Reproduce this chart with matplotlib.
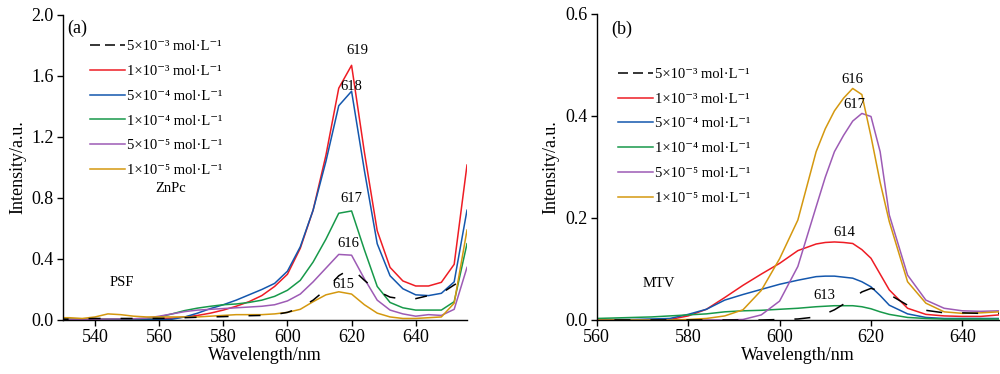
import matplotlib
matplotlib.use("Agg")
import matplotlib.pyplot as plt
from matplotlib.lines import Line2D

plt.rcParams['font.family'] = ['Liberation Serif', 'DejaVu Serif']
plt.rcParams['lines.scale_dashes'] = False

# ---------------- data: panel (a) PSF ----------------
wl_a = [528, 532, 536, 540, 544, 548, 552, 556, 560, 564, 568, 572, 576, 580, 584, 588,
        592, 596, 600, 604, 608, 612, 616, 620, 624, 628, 632, 636, 640, 644, 648, 652, 656]
a_5e3 = [0.005, 0.005, 0.008, 0.01, 0.01, 0.01, 0.01, 0.01, 0.01, 0.012, 0.015, 0.018, 0.02, 0.022,
         0.025, 0.028, 0.03, 0.035, 0.05, 0.08, 0.13, 0.20, 0.29, 0.34, 0.26, 0.19, 0.15, 0.137,
         0.14, 0.16, 0.175, 0.23, 0.28]
a_1e3 = [0.005, 0.005, 0.005, 0.005, 0.005, 0.005, 0.005, 0.005, 0.008, 0.012, 0.02, 0.03, 0.045,
         0.065, 0.09, 0.12, 0.16, 0.22, 0.30, 0.47, 0.72, 1.08, 1.52, 1.67, 1.10, 0.585, 0.345,
         0.256, 0.223, 0.223, 0.247, 0.365, 1.016]
a_5e4 = [0.002, 0.002, 0.002, 0.002, 0.002, 0.002, 0.002, 0.002, 0.002, 0.005, 0.02, 0.045, 0.075,
         0.10, 0.13, 0.165, 0.20, 0.24, 0.32, 0.48, 0.72, 1.04, 1.405, 1.50, 0.98, 0.50, 0.29,
         0.205, 0.165, 0.16, 0.175, 0.25, 0.72]
a_1e4 = [0.005, 0.005, 0.005, 0.005, 0.006, 0.007, 0.008, 0.01, 0.02, 0.04, 0.062, 0.078, 0.09,
         0.10, 0.105, 0.115, 0.13, 0.155, 0.195, 0.26, 0.38, 0.53, 0.70, 0.715, 0.46, 0.22, 0.115,
         0.08, 0.065, 0.065, 0.065, 0.12, 0.50]
a_5e5 = [0.003, 0.003, 0.004, 0.005, 0.006, 0.007, 0.008, 0.012, 0.025, 0.04, 0.055, 0.065, 0.07,
         0.075, 0.08, 0.085, 0.09, 0.10, 0.125, 0.17, 0.25, 0.34, 0.43, 0.425, 0.27, 0.13, 0.065,
         0.04, 0.025, 0.035, 0.03, 0.07, 0.345]
a_1e5 = [0.015, 0.015, 0.01, 0.02, 0.04, 0.035, 0.025, 0.02, 0.02, 0.02, 0.02, 0.02, 0.025, 0.03,
         0.035, 0.035, 0.035, 0.04, 0.05, 0.07, 0.12, 0.165, 0.185, 0.17, 0.10, 0.045, 0.02, 0.01,
         0.01, 0.015, 0.02, 0.11, 0.59]

# ---------------- data: panel (b) MTV ----------------
wl_b = [556, 560, 564, 568, 572, 576, 580, 584, 588, 592, 596, 600, 604, 608, 610, 612, 614, 616,
        618, 620, 622, 624, 628, 632, 636, 640, 644, 648, 652]
b_5e3 = [0, 0, 0, 0, 0, 0, 0, 0, 0, 0, 0, 0.001, 0.002, 0.006, 0.012, 0.02, 0.031, 0.042, 0.055,
         0.062, 0.057, 0.05, 0.029, 0.019, 0.014, 0.014, 0.013, 0.013, 0.013]
b_1e3 = [0, 0, 0, 0, 0, 0.001, 0.008, 0.021, 0.044, 0.068, 0.09, 0.111, 0.136, 0.149, 0.152, 0.153,
         0.152, 0.150, 0.138, 0.121, 0.09, 0.059, 0.023, 0.011, 0.008, 0.007, 0.007, 0.01, 0.011]
b_5e4 = [0.001, 0.001, 0.001, 0.001, 0.002, 0.003, 0.011, 0.021, 0.039, 0.05, 0.06, 0.07, 0.078,
         0.085, 0.086, 0.086, 0.084, 0.082, 0.075, 0.065, 0.048, 0.029, 0.012, 0.005, 0.003, 0.003,
         0.003, 0.003, 0.003]
b_1e4 = [0.002, 0.003, 0.004, 0.005, 0.006, 0.008, 0.01, 0.012, 0.016, 0.018, 0.019, 0.021, 0.023,
         0.026, 0.027, 0.028, 0.028, 0.028, 0.026, 0.022, 0.016, 0.011, 0.005, 0.003, 0.002, 0.002,
         0.002, 0.002, 0.002]
b_5e5 = [0, 0, 0, 0, 0, 0, 0, 0, 0, 0.001, 0.01, 0.037, 0.105, 0.222, 0.28, 0.33, 0.362, 0.39,
         0.405, 0.399, 0.33, 0.206, 0.088, 0.039, 0.023, 0.018, 0.017, 0.018, 0.018]
b_1e5 = [0, 0, 0, 0, 0, 0, 0.001, 0.003, 0.008, 0.02, 0.058, 0.12, 0.196, 0.33, 0.375, 0.41, 0.435,
         0.454, 0.442, 0.36, 0.27, 0.193, 0.075, 0.033, 0.016, 0.013, 0.014, 0.016, 0.017]

labels = ['5×10⁻³ mol·L⁻¹',
          '1×10⁻³ mol·L⁻¹',
          '5×10⁻⁴ mol·L⁻¹',
          '1×10⁻⁴ mol·L⁻¹',
          '5×10⁻⁵ mol·L⁻¹',
          '1×10⁻⁵ mol·L⁻¹']
colors = ['#000000', '#ee1c24', '#1457ad', '#17994a', '#9d5bb5', '#d4980f']

# peak annotations
peaks_a = ['619', '618', '617', '616', '615']
peaks_b = ['616', '617', '614', '613']

px = 72 / 100  # points per pixel at dpi 100

fig = plt.figure(figsize=(10, 3.74), dpi=100)
axa = fig.add_axes([0.063, 0.1444, 0.404, 0.8155])
axb = fig.add_axes([0.5967, 0.1444, 0.4023, 0.8182])

lw = 1.1


def style(ax):
    for s in ['top', 'right']:
        ax.spines[s].set_visible(False)
    ax.spines['left'].set_linewidth(1.0)
    ax.spines['bottom'].set_linewidth(1.0)
    ax.tick_params(direction='out', length=4.5, width=1.0, labelsize=13, pad=2)
    ax.set_xlabel('Wavelength/nm', fontsize=13, labelpad=1)
    ax.set_ylabel('Intensity/a.u.', fontsize=13, labelpad=4)


series_a = [a_5e3, a_1e3, a_5e4, a_1e4, a_5e5, a_1e5]
series_b = [b_5e3, b_1e3, b_5e4, b_1e4, b_5e5, b_1e5]

for i, (ys, c) in enumerate(zip(series_a, colors)):
    if i == 0:
        axa.plot(wl_a, ys, color=c, lw=lw, dashes=(12 * px, 20 * px), zorder=3)
    else:
        axa.plot(wl_a, ys, color=c, lw=lw, zorder=2)
for i, (ys, c) in enumerate(zip(series_b, colors)):
    if i == 0:
        axb.plot(wl_b, ys, color=c, lw=lw, dashes=(16 * px, 20 * px), zorder=3)
    else:
        axb.plot(wl_b, ys, color=c, lw=lw, zorder=2)

axa.set_xlim(530, 656)
axa.set_ylim(0, 2.0)
axa.set_xticks([540, 560, 580, 600, 620, 640])
axa.set_yticks([0.0, 0.4, 0.8, 1.2, 1.6, 2.0])
axa.set_yticklabels(['0.0', '0.4', '0.8', '1.2', '1.6', '2.0'])
style(axa)

axb.set_xlim(560, 648)
axb.set_ylim(0, 0.6)
axb.set_xticks([560, 580, 600, 620, 640])
axb.set_yticks([0.0, 0.2, 0.4, 0.6])
axb.set_yticklabels(['0.0', '0.2', '0.4', '0.6'])
style(axb)

handles = []
for i, c in enumerate(colors):
    if i == 0:
        handles.append(Line2D([], [], color=c, lw=lw, dashes=(10 * px, 5 * px)))
    else:
        handles.append(Line2D([], [], color=c, lw=lw))

leg_kw = dict(frameon=False, fontsize=10.5, handlelength=2.4, handletextpad=0.15,
              labelspacing=0.8, borderaxespad=0, borderpad=0, loc='upper left')
axa.legend(handles, labels, bbox_to_anchor=(0.0668, 0.919), **leg_kw)
axb.legend(handles, labels, bbox_to_anchor=(0.053, 0.825), **leg_kw)

# texts panel (a)
axa.text(534.5, 1.91, '(a)', fontsize=13, ha='center', va='center')
axa.text(563.5, 0.86, 'ZnPc', fontsize=10.5, ha='center', va='center')
axa.text(548.5, 0.245, 'PSF', fontsize=10.5, ha='center', va='center')
pos_a = [(621.8, 1.77), (620.0, 1.53), (620.0, 0.795), (619.0, 0.50), (617.5, 0.235)]
for t, (x, y) in zip(peaks_a, pos_a):
    axa.text(x, y, t, fontsize=10.5, ha='center', va='center')

# texts panel (b)
axb.text(565.5, 0.5705, '(b)', fontsize=13, ha='center', va='center')
axb.text(573.5, 0.0720, 'MTV', fontsize=10.5, ha='center', va='center')
pos_b = [(616.0, 0.4718), (616.4, 0.4216), (614.2, 0.1725), (609.8, 0.0490)]
for t, (x, y) in zip(peaks_b, pos_b):
    axb.text(x, y, t, fontsize=10.5, ha='center', va='center')

fig.savefig('out.png', dpi=100)
